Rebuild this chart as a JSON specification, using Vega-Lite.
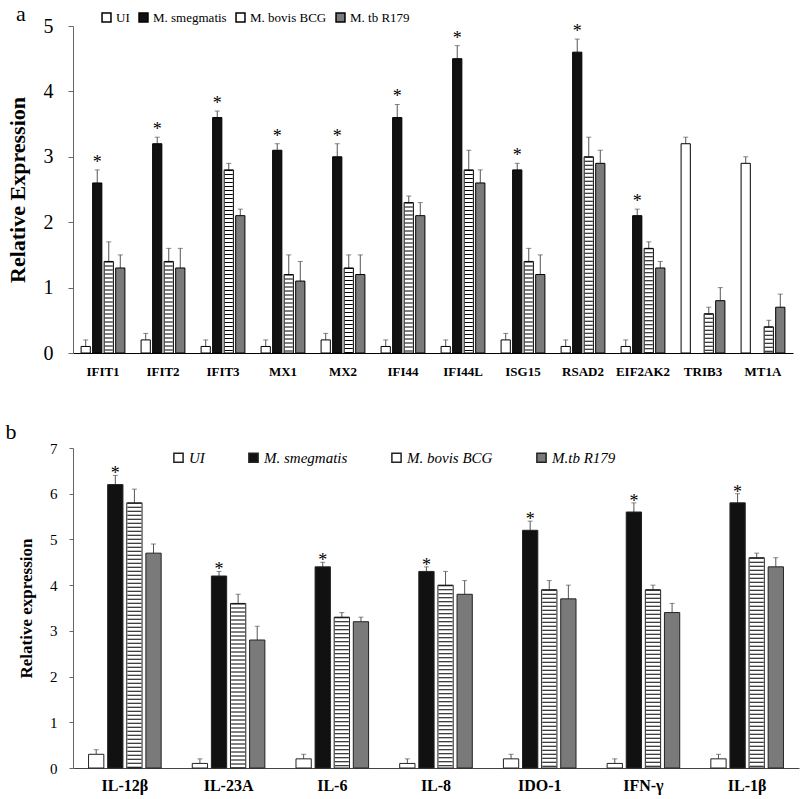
{
  "$schema": "https://vega.github.io/schema/vega-lite/v6.json",
  "padding": {"left": 5, "top": 3, "right": 5, "bottom": 2},
  "background": "white",
  "config": {
    "font": "Liberation Serif",
    "view": {"stroke": null},
    "axis": {"grid": false, "labelFont": "Liberation Serif", "titleFont": "Liberation Serif", "labelColor": "black", "titleColor": "black"}
  },
  "spacing": 43,
  "resolve": {"scale": {"fill": "independent", "x": "independent", "y": "independent", "xOffset": "independent"}, "legend": {"fill": "independent"}},
  "vconcat": [
    {
      "title": {"text": "a", "anchor": "start", "frame": "bounds", "fontSize": 22, "fontWeight": "normal", "font": "Liberation Serif", "offset": -15, "dx": 10},
      "width": 720,
      "height": 327,
      "data": {"values": [
        {"gene": "IFIT1", "grp": "UI", "value": 0.1, "err": 0.1, "sig": ""},
        {"gene": "IFIT1", "grp": "M. smegmatis", "value": 2.6, "err": 0.2, "sig": "*"},
        {"gene": "IFIT1", "grp": "M. bovis BCG", "value": 1.4, "err": 0.3, "sig": ""},
        {"gene": "IFIT1", "grp": "M. tb R179", "value": 1.3, "err": 0.2, "sig": ""},
        {"gene": "IFIT2", "grp": "UI", "value": 0.2, "err": 0.1, "sig": ""},
        {"gene": "IFIT2", "grp": "M. smegmatis", "value": 3.2, "err": 0.1, "sig": "*"},
        {"gene": "IFIT2", "grp": "M. bovis BCG", "value": 1.4, "err": 0.2, "sig": ""},
        {"gene": "IFIT2", "grp": "M. tb R179", "value": 1.3, "err": 0.3, "sig": ""},
        {"gene": "IFIT3", "grp": "UI", "value": 0.1, "err": 0.1, "sig": ""},
        {"gene": "IFIT3", "grp": "M. smegmatis", "value": 3.6, "err": 0.1, "sig": "*"},
        {"gene": "IFIT3", "grp": "M. bovis BCG", "value": 2.8, "err": 0.1, "sig": ""},
        {"gene": "IFIT3", "grp": "M. tb R179", "value": 2.1, "err": 0.1, "sig": ""},
        {"gene": "MX1", "grp": "UI", "value": 0.1, "err": 0.1, "sig": ""},
        {"gene": "MX1", "grp": "M. smegmatis", "value": 3.1, "err": 0.1, "sig": "*"},
        {"gene": "MX1", "grp": "M. bovis BCG", "value": 1.2, "err": 0.3, "sig": ""},
        {"gene": "MX1", "grp": "M. tb R179", "value": 1.1, "err": 0.3, "sig": ""},
        {"gene": "MX2", "grp": "UI", "value": 0.2, "err": 0.1, "sig": ""},
        {"gene": "MX2", "grp": "M. smegmatis", "value": 3.0, "err": 0.2, "sig": "*"},
        {"gene": "MX2", "grp": "M. bovis BCG", "value": 1.3, "err": 0.2, "sig": ""},
        {"gene": "MX2", "grp": "M. tb R179", "value": 1.2, "err": 0.3, "sig": ""},
        {"gene": "IFI44", "grp": "UI", "value": 0.1, "err": 0.1, "sig": ""},
        {"gene": "IFI44", "grp": "M. smegmatis", "value": 3.6, "err": 0.2, "sig": "*"},
        {"gene": "IFI44", "grp": "M. bovis BCG", "value": 2.3, "err": 0.1, "sig": ""},
        {"gene": "IFI44", "grp": "M. tb R179", "value": 2.1, "err": 0.2, "sig": ""},
        {"gene": "IFI44L", "grp": "UI", "value": 0.1, "err": 0.1, "sig": ""},
        {"gene": "IFI44L", "grp": "M. smegmatis", "value": 4.5, "err": 0.2, "sig": "*"},
        {"gene": "IFI44L", "grp": "M. bovis BCG", "value": 2.8, "err": 0.3, "sig": ""},
        {"gene": "IFI44L", "grp": "M. tb R179", "value": 2.6, "err": 0.2, "sig": ""},
        {"gene": "ISG15", "grp": "UI", "value": 0.2, "err": 0.1, "sig": ""},
        {"gene": "ISG15", "grp": "M. smegmatis", "value": 2.8, "err": 0.1, "sig": "*"},
        {"gene": "ISG15", "grp": "M. bovis BCG", "value": 1.4, "err": 0.2, "sig": ""},
        {"gene": "ISG15", "grp": "M. tb R179", "value": 1.2, "err": 0.3, "sig": ""},
        {"gene": "RSAD2", "grp": "UI", "value": 0.1, "err": 0.1, "sig": ""},
        {"gene": "RSAD2", "grp": "M. smegmatis", "value": 4.6, "err": 0.2, "sig": "*"},
        {"gene": "RSAD2", "grp": "M. bovis BCG", "value": 3.0, "err": 0.3, "sig": ""},
        {"gene": "RSAD2", "grp": "M. tb R179", "value": 2.9, "err": 0.2, "sig": ""},
        {"gene": "EIF2AK2", "grp": "UI", "value": 0.1, "err": 0.1, "sig": ""},
        {"gene": "EIF2AK2", "grp": "M. smegmatis", "value": 2.1, "err": 0.1, "sig": "*"},
        {"gene": "EIF2AK2", "grp": "M. bovis BCG", "value": 1.6, "err": 0.1, "sig": ""},
        {"gene": "EIF2AK2", "grp": "M. tb R179", "value": 1.3, "err": 0.1, "sig": ""},
        {"gene": "TRIB3", "grp": "UI", "value": 3.2, "err": 0.1, "sig": ""},
        {"gene": "TRIB3", "grp": "M. bovis BCG", "value": 0.6, "err": 0.1, "sig": ""},
        {"gene": "TRIB3", "grp": "M. tb R179", "value": 0.8, "err": 0.2, "sig": ""},
        {"gene": "MT1A", "grp": "UI", "value": 2.9, "err": 0.1, "sig": ""},
        {"gene": "MT1A", "grp": "M. bovis BCG", "value": 0.4, "err": 0.1, "sig": ""},
        {"gene": "MT1A", "grp": "M. tb R179", "value": 0.7, "err": 0.2, "sig": ""}
      ]},
      "transform": [{"calculate": "datum.value + datum.err", "as": "hi"}],
      "encoding": {
        "x": {"field": "gene", "type": "nominal", "sort": null, "title": null,
          "scale": {"paddingInner": 0.27, "paddingOuter": 0.135},
          "axis": {"labelAngle": 0, "ticks": false, "labelFontSize": 13, "labelFontWeight": "bold", "labelPadding": 12, "domainColor": "black"}},
        "xOffset": {"field": "grp", "type": "nominal", "scale": {"domain": ["UI", "M. smegmatis", "M. bovis BCG", "M. tb R179"], "paddingInner": 0.2}}
      },
      "layer": [
        {"mark": {"type": "rule", "color": "#555", "strokeWidth": 1},
         "encoding": {"y": {"field": "value", "type": "quantitative", "scale": {"domain": [0, 5]},
           "axis": {"values": [0, 1, 2, 3, 4, 5], "format": "d", "title": "Relative Expression", "titleFontSize": 22, "titleFontWeight": "bold", "titlePadding": 14, "labelFontSize": 20, "labelPadding": 15, "tickSize": 5, "tickColor": "#666", "domainColor": "#666"}},
           "y2": {"field": "hi"}}},
        {"mark": {"type": "tick", "color": "#555", "size": 5, "thickness": 1, "orient": "horizontal"},
         "encoding": {"y": {"field": "hi", "type": "quantitative"}}},
        {"mark": {"type": "bar", "stroke": "black", "strokeWidth": 1},
         "encoding": {"y": {"field": "value", "type": "quantitative"},
           "fill": {"field": "grp", "type": "nominal", "title": null,
             "scale": {"domain": ["UI", "M. smegmatis", "M. bovis BCG", "M. tb R179"], "range": ["#ffffff", "#111111", "#ffffff", "#7a7a7a"]},
             "legend": {"orient": "none", "legendX": 27, "legendY": -15, "direction": "horizontal", "columns": 4, "columnPadding": 6, "labelFontSize": 13, "labelFont": "Liberation Serif", "labelOffset": 3, "symbolSize": 80, "title": null,
               "encode": {"symbols": {"update": {"stroke": {"value": "black"}, "strokeWidth": {"value": 1}, "opacity": {"value": 1},
                 "shape": {"signal": "datum.value == 'M. bovis BCG' ? 'M-1,-1H1V1H-1Z M-1,-0.5H1 M-1,0H1 M-1,0.5H1' : datum.value == 'M. tb R179' ? 'M-1,-1H1V1H-1Z M-1,0L0,-1 M-1,1L1,-1 M0,1L1,0' : 'square'"}}}}}}}},
        {"transform": [{"filter": "datum.grp == 'M. bovis BCG'"}],
         "mark": {"type": "rule", "color": "black", "strokeWidth": 8, "strokeDash": [1, 3]},
         "encoding": {"y": {"field": "value", "type": "quantitative"}, "y2": {"datum": 0}}},
        {"transform": [{"filter": "datum.sig == '*'"}],
         "mark": {"type": "text", "fontSize": 18, "baseline": "alphabetic", "dy": -2, "font": "Liberation Serif"},
         "encoding": {"y": {"field": "hi", "type": "quantitative"}, "text": {"field": "sig"}}}
      ]
    },
    {
      "title": {"text": "b", "anchor": "start", "frame": "bounds", "fontSize": 22, "fontWeight": "normal", "font": "Liberation Serif", "offset": -3, "dx": -12},
      "width": 726,
      "height": 320,
      "data": {"values": [
        {"gene": "IL-12β", "grp": "UI", "value": 0.3, "err": 0.1, "sig": ""},
        {"gene": "IL-12β", "grp": "M. smegmatis", "value": 6.2, "err": 0.2, "sig": "*"},
        {"gene": "IL-12β", "grp": "M. bovis BCG", "value": 5.8, "err": 0.3, "sig": ""},
        {"gene": "IL-12β", "grp": "M.tb R179", "value": 4.7, "err": 0.2, "sig": ""},
        {"gene": "IL-23A", "grp": "UI", "value": 0.1, "err": 0.1, "sig": ""},
        {"gene": "IL-23A", "grp": "M. smegmatis", "value": 4.2, "err": 0.1, "sig": "*"},
        {"gene": "IL-23A", "grp": "M. bovis BCG", "value": 3.6, "err": 0.2, "sig": ""},
        {"gene": "IL-23A", "grp": "M.tb R179", "value": 2.8, "err": 0.3, "sig": ""},
        {"gene": "IL-6", "grp": "UI", "value": 0.2, "err": 0.1, "sig": ""},
        {"gene": "IL-6", "grp": "M. smegmatis", "value": 4.4, "err": 0.1, "sig": "*"},
        {"gene": "IL-6", "grp": "M. bovis BCG", "value": 3.3, "err": 0.1, "sig": ""},
        {"gene": "IL-6", "grp": "M.tb R179", "value": 3.2, "err": 0.1, "sig": ""},
        {"gene": "IL-8", "grp": "UI", "value": 0.1, "err": 0.1, "sig": ""},
        {"gene": "IL-8", "grp": "M. smegmatis", "value": 4.3, "err": 0.1, "sig": "*"},
        {"gene": "IL-8", "grp": "M. bovis BCG", "value": 4.0, "err": 0.3, "sig": ""},
        {"gene": "IL-8", "grp": "M.tb R179", "value": 3.8, "err": 0.3, "sig": ""},
        {"gene": "IDO-1", "grp": "UI", "value": 0.2, "err": 0.1, "sig": ""},
        {"gene": "IDO-1", "grp": "M. smegmatis", "value": 5.2, "err": 0.2, "sig": "*"},
        {"gene": "IDO-1", "grp": "M. bovis BCG", "value": 3.9, "err": 0.2, "sig": ""},
        {"gene": "IDO-1", "grp": "M.tb R179", "value": 3.7, "err": 0.3, "sig": ""},
        {"gene": "IFN-γ", "grp": "UI", "value": 0.1, "err": 0.1, "sig": ""},
        {"gene": "IFN-γ", "grp": "M. smegmatis", "value": 5.6, "err": 0.2, "sig": "*"},
        {"gene": "IFN-γ", "grp": "M. bovis BCG", "value": 3.9, "err": 0.1, "sig": ""},
        {"gene": "IFN-γ", "grp": "M.tb R179", "value": 3.4, "err": 0.2, "sig": ""},
        {"gene": "IL-1β", "grp": "UI", "value": 0.2, "err": 0.1, "sig": ""},
        {"gene": "IL-1β", "grp": "M. smegmatis", "value": 5.8, "err": 0.2, "sig": "*"},
        {"gene": "IL-1β", "grp": "M. bovis BCG", "value": 4.6, "err": 0.1, "sig": ""},
        {"gene": "IL-1β", "grp": "M.tb R179", "value": 4.4, "err": 0.2, "sig": ""}
      ]},
      "transform": [{"calculate": "datum.value + datum.err", "as": "hi"}],
      "encoding": {
        "x": {"field": "gene", "type": "nominal", "sort": null, "title": null,
          "scale": {"paddingInner": 0.3, "paddingOuter": 0.15},
          "axis": {"labelAngle": 0, "ticks": false, "labelFontSize": 16, "labelFontWeight": "bold", "labelPadding": 9, "domainColor": "#444"}},
        "xOffset": {"field": "grp", "type": "nominal", "scale": {"domain": ["UI", "M. smegmatis", "M. bovis BCG", "M.tb R179"], "paddingInner": 0.2}}
      },
      "layer": [
        {"mark": {"type": "rule", "color": "#555", "strokeWidth": 1},
         "encoding": {"y": {"field": "value", "type": "quantitative", "scale": {"domain": [0, 7]},
           "axis": {"values": [0, 1, 2, 3, 4, 5, 6, 7], "format": "d", "title": "Relative expression", "titleFontSize": 17, "titleFontWeight": "bold", "titlePadding": 14, "labelFontSize": 15, "labelPadding": 12, "tickSize": 4, "tickColor": "#666", "domainColor": "#666"}},
           "y2": {"field": "hi"}}},
        {"mark": {"type": "tick", "color": "#555", "size": 5, "thickness": 1, "orient": "horizontal"},
         "encoding": {"y": {"field": "hi", "type": "quantitative"}}},
        {"mark": {"type": "bar", "stroke": "#222", "strokeWidth": 1},
         "encoding": {"y": {"field": "value", "type": "quantitative"},
           "fill": {"field": "grp", "type": "nominal", "title": null,
             "scale": {"domain": ["UI", "M. smegmatis", "M. bovis BCG", "M.tb R179"], "range": ["#ffffff", "#111111", "#ffffff", "#7a7a7a"]},
             "legend": {"orient": "none", "legendX": 98, "legendY": 2, "direction": "horizontal", "columns": 4, "columnPadding": 40, "labelFontSize": 15, "labelFont": "Liberation Serif", "labelFontStyle": "italic", "labelOffset": 3, "symbolSize": 85, "title": null,
               "encode": {"symbols": {"update": {"stroke": {"value": "black"}, "strokeWidth": {"value": 1}, "opacity": {"value": 1},
                 "shape": {"signal": "datum.value == 'M. bovis BCG' ? 'M-1,-1H1V1H-1Z M-1,-0.5H1 M-1,0H1 M-1,0.5H1' : datum.value == 'M.tb R179' ? 'M-1,-1H1V1H-1Z M-1,0L0,-1 M-1,1L1,-1 M0,1L1,0' : 'square'"}}}}}}}},
        {"transform": [{"filter": "datum.grp == 'M. bovis BCG'"}],
         "mark": {"type": "rule", "color": "black", "strokeWidth": 14, "strokeDash": [1, 3]},
         "encoding": {"y": {"field": "value", "type": "quantitative"}, "y2": {"datum": 0}}},
        {"transform": [{"filter": "datum.sig == '*'"}],
         "mark": {"type": "text", "fontSize": 18, "baseline": "alphabetic", "dy": 4, "font": "Liberation Serif"},
         "encoding": {"y": {"field": "hi", "type": "quantitative"}, "text": {"field": "sig"}}}
      ]
    }
  ]
}
